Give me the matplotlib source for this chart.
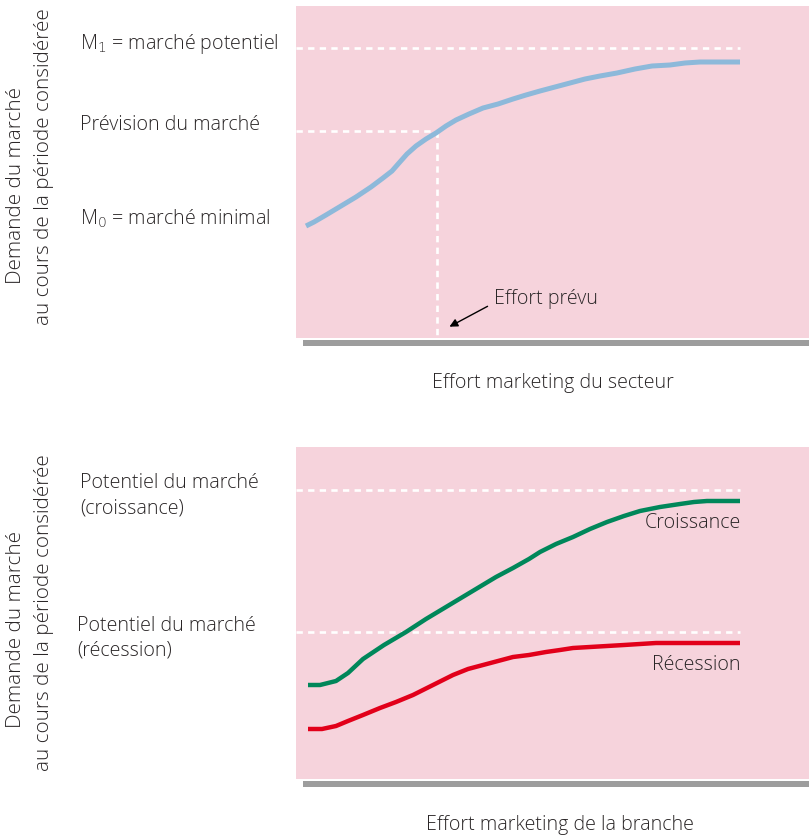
import matplotlib
matplotlib.use('Agg')
import matplotlib.pyplot as plt
from matplotlib.patches import Rectangle

# Dimensions de la figure, en pixels
W, H = 809, 836

# Graphique du haut : effort marketing du secteur -> demande
effort_secteur = [10, 18, 30, 45, 60, 75, 87, 96, 103, 111, 120, 130, 140, 150, 160, 173,
                  187, 202, 217, 230, 244, 259, 274, 289, 304, 321, 339, 356, 374, 389,
                  404, 424, 444]
demande_secteur = [112, 116, 123, 132, 141, 151, 160, 167, 175, 184, 192, 199, 205, 212, 218, 224,
                   230, 234, 239, 243, 247, 251, 255, 259, 262, 265, 269, 272, 273, 275,
                   276, 276, 276]
marche_potentiel = 290
prevision_marche = 207
effort_prevu = 141

# Graphique du bas : croissance / recession
effort_croissance = [12, 24, 40, 52, 67, 88, 110, 130, 150, 175, 200, 217, 233, 244, 260,
                     277, 294, 311, 328, 344, 364, 384, 398, 411, 428, 444]
demande_croissance = [94, 94, 98, 106, 120, 134, 147, 160, 172, 187, 202, 211, 220, 227, 235,
                      242, 250, 257, 263, 268, 272, 275, 277, 278, 278, 278]
effort_recession = [12, 26, 40, 52, 67, 84, 100, 117, 133, 145, 157, 172, 187, 202, 217, 233,
                    250, 264, 277, 294, 311, 328, 344, 360, 377, 410, 444]
demande_recession = [50, 50, 53, 58, 64, 71, 77, 84, 92, 98, 104, 110, 114, 118, 122, 124,
                     127, 129, 131, 132, 133, 134, 135, 136, 136, 136, 136]
potentiel_croissance = 289
potentiel_recession = 147

ROSE = '#f6d3dc'
GRIS = '#9d9d9d'
TXT = '#2a2627'
FONT = ['Open Sans', 'DejaVu Sans']
FS = 14.1
FS_Y = 14.9

plt.rcParams['font.family'] = FONT
plt.rcParams['font.weight'] = 'light'


def px(x, y):
    '''Convertit des coordonnees pixel en fraction de figure.'''
    return x / W, 1 - y / H


fig = plt.figure(figsize=(W / 100, H / 100), dpi=100)


def panneau(top):
    # axe rose de 513 x 332 pixels, coin haut a gauche en (296, top)
    x0, y1 = px(296, top + 332)
    ax = fig.add_axes([x0, y1, 513 / W, 332 / H])
    ax.set_facecolor(ROSE)
    ax.set_xlim(0, 513)
    ax.set_ylim(0, 332)
    for s in ax.spines.values():
        s.set_visible(False)
    ax.set_xticks([])
    ax.set_yticks([])
    # barre grise sous le panneau
    bx, by = px(303, top + 340)
    fig.patches.append(Rectangle((bx, by), (W - 303) / W, 6.5 / H, transform=fig.transFigure,
                                 facecolor=GRIS, edgecolor='none'))
    return ax


def tirets(ax, xs, ys):
    ax.plot(xs, ys, color='white', lw=1.9, dashes=(2.4, 2.0), solid_capstyle='butt')


def courbe(ax, xs, ys, couleur, lw):
    ax.plot(xs, ys, color=couleur, lw=lw, solid_capstyle='butt', solid_joinstyle='round')


# ---------- haut ----------
ax1 = panneau(6)
tirets(ax1, [0, 444], [marche_potentiel, marche_potentiel])
tirets(ax1, [0, effort_prevu], [prevision_marche, prevision_marche])
tirets(ax1, [effort_prevu, effort_prevu], [prevision_marche, 0])
courbe(ax1, effort_secteur, demande_secteur, '#8db9da', 3.6)
ax1.annotate('', xy=(151, 10), xytext=(194, 33),
             arrowprops=dict(arrowstyle='-|>', color='black', lw=1, mutation_scale=12))
ax1.text(198, 39, 'Effort prévu', fontsize=FS, color=TXT, va='center', ha='left')

fig.text(*px(80, 44), 'M$_1$ = marché potentiel', fontsize=FS, color=TXT, va='center')
fig.text(*px(80, 125), 'Prévision du marché', fontsize=FS, color=TXT, va='center')
fig.text(*px(80, 219), 'M$_0$ = marché minimal', fontsize=FS, color=TXT, va='center')
fig.text(*px(16, 185), 'Demande du marché', fontsize=FS_Y, color=TXT, rotation=90,
         ha='center', va='center')
fig.text(*px(44, 167), 'au cours de la période considérée', fontsize=FS_Y, color=TXT,
         rotation=90, ha='center', va='center')
fig.text(*px(553, 383), 'Effort marketing du secteur', fontsize=FS, color=TXT,
         ha='center', va='center')

# ---------- bas ----------
ax2 = panneau(447)
tirets(ax2, [0, 444], [potentiel_croissance, potentiel_croissance])
tirets(ax2, [0, 444], [potentiel_recession, potentiel_recession])
courbe(ax2, effort_croissance, demande_croissance, '#00875a', 3.2)
courbe(ax2, effort_recession, demande_recession, '#e2001a', 3.2)
ax2.text(445, 256, 'Croissance', fontsize=FS, color=TXT, ha='right', va='center')
ax2.text(445, 114, 'Récession', fontsize=FS, color=TXT, ha='right', va='center')

fig.text(*px(80, 483), 'Potentiel du marché', fontsize=FS, color=TXT, va='center')
fig.text(*px(80, 509), '(croissance)', fontsize=FS, color=TXT, va='center')
fig.text(*px(77, 626), 'Potentiel du marché', fontsize=FS, color=TXT, va='center')
fig.text(*px(77, 651), '(récession)', fontsize=FS, color=TXT, va='center')
fig.text(*px(16, 630), 'Demande du marché', fontsize=FS_Y, color=TXT, rotation=90,
         ha='center', va='center')
fig.text(*px(44, 613), 'au cours de la période considérée', fontsize=FS_Y, color=TXT,
         rotation=90, ha='center', va='center')
fig.text(*px(560, 825), 'Effort marketing de la branche', fontsize=FS, color=TXT,
         ha='center', va='center')

fig.savefig('out.png', dpi=100)
